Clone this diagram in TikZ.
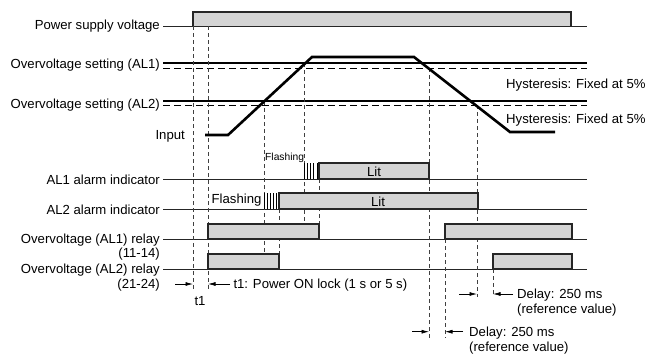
\documentclass[tikz,border=0pt]{standalone}
\usepackage{fontspec}
\setmainfont{Liberation Sans}
\usetikzlibrary{arrows.meta}
\begin{document}
\begin{tikzpicture}
[x=1bp,y=-1bp,
  labeldecorate/.style={anchor=base east,inner sep=0pt,font=\fontsize{13.2}{15}\selectfont},
  textdecorate/.style={anchor=base west,inner sep=0pt,font=\fontsize{13.2}{15}\selectfont},
  smalldecorate/.style={anchor=base west,inner sep=0pt,font=\fontsize{10.3}{12}\selectfont},
  litdecorate/.style={anchor=base,inner sep=0pt,font=\fontsize{13.2}{15}\selectfont},
  linedecorate/.style={line width=0.9bp,draw=black!85},
  settingdecorate/.style={line width=1.7bp},
  hystdecorate/.style={line width=0.9bp,dash pattern=on 7bp off 4bp},
  guidedecorate/.style={line width=0.7bp,draw=black!75,dash pattern=on 4bp off 3bp},
  boxdecorate/.style={fill=black!17,draw=black!85,line width=1.4bp},
  tickdecorate/.style={line width=0.9bp},
  inputdecorate/.style={line width=2.6bp},
  dimdecorate/.style={line width=0.7bp,-{Latex[length=7.5bp,width=4bp]}}]
\useasboundingbox (0,0) rectangle (649,354);
%% signal labels on the left
\foreach \nodename/\y/\txt in {psv/29.5/Power supply voltage,
    setone/68.3/Overvoltage setting (AL1), settwo/108/Overvoltage setting (AL2),
    indone/184/AL1 alarm indicator, indtwo/214/AL2 alarm indicator,
    relone/243.5/Overvoltage (AL1) relay, relonepins/257.5/(11-14),
    reltwo/273.5/Overvoltage (AL2) relay, reltwopins/288.3/(21-24)} {
  \node (\nodename) at (160,\y) [labeldecorate] {\txt};
}
\node (input) at (185,139.3) [labeldecorate] {Input};
%% base lines of the signals
\foreach \y in {26,179,209,239,269} {
  \draw[linedecorate] (163,\y) -- (587,\y);
}
%% set points with hysteresis
\draw[settingdecorate] (163,63) -- (587,63);
\draw[settingdecorate] (163,101) -- (587,101);
\draw[hystdecorate] (163,68) -- (587,68);
\draw[hystdecorate] (163,105) -- (587,105);
\node (hystone) at (506,88.3) [textdecorate] {Hysteresis: Fixed at 5\%};
\node (hysttwo) at (506,123.3) [textdecorate] {Hysteresis: Fixed at 5\%};
%% guide lines
\foreach \x/\ya/\yb in {193/26/292, 208/12/292, 264/101/254, 279/209/254,
    304/63/224, 319/179/224, 429/68/338, 445/239/338, 477/105/297, 493/269/297} {
  \draw[guidedecorate] (\x,\ya) -- (\x,\yb);
}
%% input signal
\draw[inputdecorate] (205,135) -- (228,135) -- (312,57) -- (414,57)
  -- (510,132) -- (555,132);
%% power supply
\draw[boxdecorate] (193,26) |- (571,12) -- (571,26);
%% alarm indicators
\foreach \x in {304,307.3,310.6,313.9,317.2} {
  \draw[tickdecorate] (\x,163) -- (\x,179);
}
\draw[boxdecorate] (319,163) rectangle (429,179);
\node (litone) at (374,176.7) [litdecorate] {Lit};
\node (flashone) at (265,160) [smalldecorate] {Flashing};
\foreach \x in {264,267,270,273,276} {
  \draw[tickdecorate] (\x,193) -- (\x,209);
}
\draw[boxdecorate] (279,193) rectangle (478,209);
\node (littwo) at (378,206) [litdecorate] {Lit};
\node (flashtwo) at (211.5,203.3) [textdecorate] {Flashing};
%% relays
\draw[boxdecorate] (208,224) rectangle (319,239);
\draw[boxdecorate] (445,224) rectangle (572,239);
\draw[boxdecorate] (208,254) rectangle (279,269);
\draw[boxdecorate] (493,254) rectangle (572,269);
%% time marks
\coordinate (tonea) at (175,284);
\coordinate (toneb) at (193,284);
\coordinate (tonec) at (230,284);
\coordinate (toned) at (208,284);
\draw[dimdecorate] (tonea) -- (toneb);
\draw[dimdecorate] (tonec) -- (toned);
\node (tone) at (200,305) [litdecorate] {t1};
\node (lock) at (233.3,288.3) [textdecorate] {t1: Power ON lock (1 s or 5 s)};
\coordinate (dlya) at (459,294);
\coordinate (dlyb) at (477,294);
\coordinate (dlyc) at (513,294);
\coordinate (dlyd) at (493,294);
\draw[dimdecorate] (dlya) -- (dlyb);
\draw[dimdecorate] (dlyc) -- (dlyd);
\node (delayone) at (517,298.3) [textdecorate] {Delay: 250 ms};
\node (refone) at (517,313.3) [textdecorate] {(reference value)};
\coordinate (dlye) at (412,331.7);
\coordinate (dlyf) at (429,331.7);
\coordinate (dlyg) at (463,331.7);
\coordinate (dlyh) at (445,331.7);
\draw[dimdecorate] (dlye) -- (dlyf);
\draw[dimdecorate] (dlyg) -- (dlyh);
\node (delaytwo) at (469,336.7) [textdecorate] {Delay: 250 ms};
\node (reftwo) at (469,351.7) [textdecorate] {(reference value)};
\end{tikzpicture}
\end{document}
